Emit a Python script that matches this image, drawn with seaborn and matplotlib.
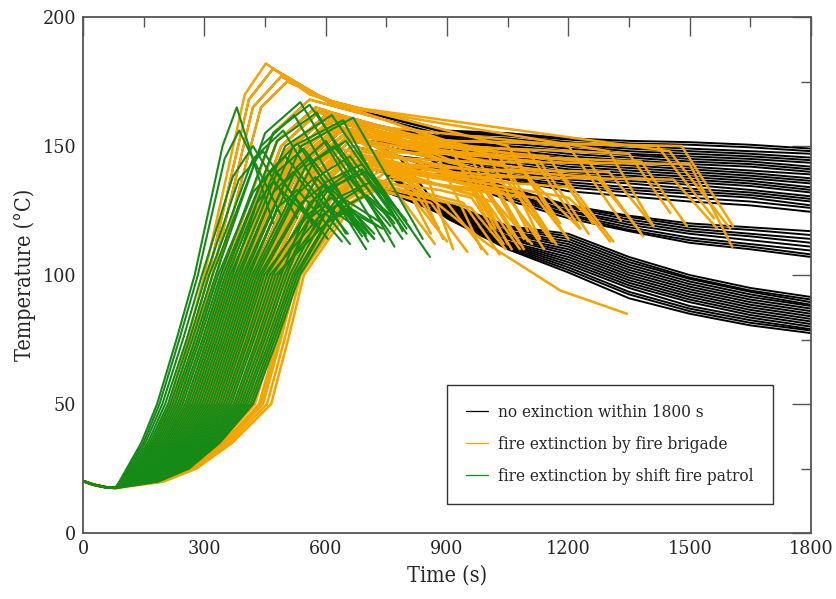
import numpy as np
import pandas as pd
import matplotlib
matplotlib.use("Agg")
import matplotlib.pyplot as plt
import seaborn as sns
from matplotlib.lines import Line2D
from matplotlib.ticker import MultipleLocator

# shared start of every curve (small dip after ignition)
start_t = [0, 25, 55, 80]
start_T = [20.2, 18.8, 17.8, 17.5]
# temperatures at which the rise times below were read
rise_levels = [20, 25, 35, 50, 75, 100]

# --- fire extinction by shift fire patrol (green) ---
green_t20 = [90, 92, 93, 95, 97, 99, 101, 103, 105, 107, 109, 111, 113, 115, 117, 119, 121, 123, 125, 127,
             130, 133, 136, 139, 142, 145, 148, 151, 154, 157, 160, 163, 166, 169, 172, 175, 178, 181, 184, 187]
green_t25 = [108, 112, 116, 120, 124, 128, 132, 136, 140, 144, 148, 152, 155, 158, 162, 166, 170, 174, 178, 182,
             186, 190, 194, 198, 202, 206, 210, 214, 218, 222, 226, 230, 234, 238, 242, 246, 250, 254, 258, 262]
green_t35 = [144, 149, 154, 160, 165, 170, 175, 180, 185, 190, 195, 200, 204, 209, 214, 219, 224, 229, 234, 239,
             244, 249, 254, 258, 263, 268, 273, 278, 283, 288, 293, 298, 303, 308, 313, 318, 323, 328, 333, 338]
green_t50 = [183, 189, 196, 203, 210, 216, 222, 228, 234, 240, 246, 252, 258, 264, 270, 276, 282, 288, 294, 300,
             306, 312, 318, 324, 330, 336, 342, 348, 354, 360, 366, 372, 378, 384, 390, 396, 402, 408, 414, 420]
green_t75 = [231, 238, 247, 256, 263, 270, 277, 283, 289, 295, 301, 307, 313, 319, 325, 331, 337, 343, 349, 355,
             361, 367, 373, 379, 385, 391, 397, 404, 410, 417, 423, 430, 436, 443, 449, 456, 462, 468, 474, 480]
green_t100 = [276, 284, 294, 304, 312, 320, 328, 334, 340, 346, 352, 358, 364, 370, 376, 382, 388, 394, 400, 406,
              412, 418, 424, 430, 436, 442, 448, 455, 462, 469, 476, 483, 490, 497, 504, 511, 518, 524, 530, 536]
green_ts = [345, 350, 370, 385, 420, 440, 450, 420, 470, 440, 480, 460, 500, 430, 480, 520, 470, 540, 500, 530,
            480, 550, 520, 570, 540, 580, 560, 600, 580, 610, 600, 630, 560, 590, 560, 620, 600, 630, 610, 640]
green_Ts = [150, 145, 138, 137, 145, 150, 155, 132, 155, 136, 152, 140, 150, 128, 140, 150, 132, 150, 136, 142,
            126, 142, 130, 144, 128, 138, 124, 136, 122, 134, 120, 130, 128, 132, 122, 134, 124, 128, 122, 126]
green_tp = [380, 386, 420, 445, 495, 522, 537, 470, 560, 500, 578, 530, 615, 470, 545, 643, 520, 668, 560, 600,
            530, 620, 575, 650, 595, 660, 615, 690, 635, 700, 655, 710, 610, 650, 600, 690, 650, 680, 660, 700]
green_Tp = [165, 156, 150, 148, 156, 162, 167, 141, 166, 146, 163, 151, 162, 136, 149, 160, 140, 161, 145, 152,
            133, 150, 138, 152, 135, 146, 130, 143, 128, 140, 125, 136, 134, 139, 127, 141, 129, 133, 126, 131]
green_te = [470, 490, 530, 570, 650, 705, 745, 605, 790, 655, 770, 690, 858, 585, 720, 790, 660, 840, 700, 760,
            640, 770, 700, 800, 690, 780, 700, 810, 720, 800, 740, 780, 720, 760, 690, 800, 740, 760, 730, 780]
green_Te = [120, 123, 122, 119, 116, 113, 113, 114, 114, 116, 111, 115, 107, 118, 114, 117, 112, 114, 110, 116,
            113, 120, 116, 118, 117, 120, 115, 118, 114, 121, 118, 125, 116, 119, 117, 116, 120, 122, 119, 121]

# --- fire extinction by fire brigade (orange) ---
orange_t20 = [100, 103, 106, 109, 112, 116, 120, 124, 128, 132, 136, 140, 144, 148, 152, 156, 160, 164, 168, 172,
              176, 180, 184, 188, 192, 196, 200, 130, 138, 146, 154, 162, 170, 178, 124, 130, 150, 158, 166, 142,
              174, 118, 126, 134, 140, 182, 120, 138, 148, 156, 144, 162, 152, 170]
orange_t25 = [135, 140, 145, 150, 155, 160, 165, 170, 176, 182, 188, 194, 200, 206, 212, 218, 224, 230, 236, 242,
              248, 254, 260, 265, 270, 275, 280, 180, 192, 204, 216, 228, 240, 252, 172, 184, 210, 222, 234, 198,
              246, 162, 176, 190, 200, 258, 168, 196, 208, 216, 202, 226, 214, 238]
orange_t35 = [172, 178, 185, 191, 198, 206, 213, 220, 228, 236, 244, 252, 260, 268, 276, 284, 292, 300, 308, 315,
              323, 331, 339, 347, 354, 361, 369, 238, 253, 269, 285, 301, 317, 333, 219, 235, 272, 288, 304, 257,
              320, 208, 227, 247, 261, 345, 216, 255, 268, 280, 262, 290, 275, 305]
orange_t50 = [212, 220, 228, 236, 245, 255, 265, 275, 285, 295, 305, 315, 325, 335, 345, 355, 365, 375, 385, 395,
              405, 415, 425, 435, 445, 455, 465, 300, 320, 340, 360, 380, 400, 420, 270, 290, 340, 360, 380, 320,
              400, 258, 282, 308, 328, 440, 268, 318, 335, 350, 330, 365, 342, 385]
orange_t75 = [258, 267, 276, 285, 297, 307, 319, 329, 340, 350, 360, 370, 380, 390, 400, 410, 420, 429, 438, 447,
              454, 463, 472, 480, 489, 498, 507, 355, 375, 395, 415, 432, 449, 467, 323, 345, 396, 415, 434, 377,
              452, 311, 337, 364, 384, 486, 322, 373, 392, 405, 386, 420, 398, 440]
orange_t100 = [300, 310, 320, 330, 345, 355, 368, 378, 390, 400, 410, 420, 430, 440, 450, 460, 470, 478, 486, 494,
               500, 508, 515, 522, 530, 538, 546, 405, 425, 445, 465, 480, 495, 510, 372, 395, 448, 466, 484, 430,
               500, 360, 388, 415, 436, 528, 372, 424, 445, 458, 440, 472, 452, 490]
orange_ts = [400, 410, 420, 440, 470, 480, 490, 500, 510, 520, 530, 535, 545, 550, 560, 570, 575, 585, 590, 600,
             610, 620, 630, 640, 650, 660, 670, 520, 540, 555, 570, 585, 600, 620, 495, 515, 540, 560, 580, 530,
             600, 480, 505, 525, 540, 640, 490, 535, 550, 560, 545, 575, 555, 590]
orange_Ts = [170, 168, 165, 165, 155, 152, 150, 148, 146, 145, 144, 142, 140, 138, 137, 136, 134, 134, 133, 132,
             132, 131, 130, 130, 129, 128, 128, 148, 145, 140, 143, 135, 133, 131, 147, 145, 130, 128, 127, 135,
             128, 152, 148, 144, 141, 128, 150, 143, 136, 134, 138, 130, 137, 128]
orange_tp = [452, 470, 490, 505, 560, 575, 590, 600, 610, 620, 630, 640, 650, 655, 660, 665, 670, 680, 690, 700,
             710, 720, 730, 740, 750, 760, 770, 620, 640, 655, 668, 680, 700, 720, 595, 615, 620, 640, 660, 620,
             680, 570, 600, 625, 640, 730, 580, 630, 640, 650, 635, 660, 645, 670]
orange_Tp = [182, 180, 177, 175, 168, 165, 164, 162, 160, 158, 157, 156, 155, 153, 152, 150, 148, 147, 146, 145,
             144, 143, 142, 141, 140, 138, 137, 160, 157, 154, 155, 148, 146, 144, 160, 158, 138, 136, 135, 145,
             136, 164, 161, 157, 154, 136, 163, 156, 146, 144, 149, 140, 147, 138]
orange_tm = [560, 600, 620, 650, 750, 760, 800, 780, 800, 820, 850, 780, 900, 850, 880, 860, 900, 880, 900, 920,
             950, 900, 950, 930, 1000, 950, 1000, 1000, 900, 900, 900, 950, 950, 900, 700, 720, 720, 760, 780, 740,
             820, 700, 780, 820, 840, 880, 760, 830, 860, 900, 880, 840, 920, 860]
orange_Tm = [170, 168, 166, 165, 160, 156, 155, 152, 152, 150, 150, 146, 148, 146, 145, 143, 147, 140, 140, 139,
             141, 137, 137, 136, 138, 133, 133, 112, 152, 150, 152, 141, 144, 138, 152, 150, 134, 132, 131, 140,
             131, 158, 154, 150, 148, 133, 157, 149, 136, 134, 138, 132, 136, 130]
orange_tx = [900, 1050, 1450, 1300, 950, 920, 1000, 880, 1100, 950, 1150, 840, 1250, 1000, 1180, 950, 1380, 980,
             1100, 1050, 1300, 1000, 1200, 1080, 1460, 1120, 1050, 1180, 1420, 1350, 1480, 1270, 1500, 1200, 760, 800,
             780, 820, 860, 800, 900, 1020, 1060, 980, 1130, 960, 1200, 1040, 990, 1020, 1040, 940, 1080, 960]
orange_Tx = [152, 150, 148, 148, 148, 146, 147, 145, 148, 142, 146, 143, 144, 140, 140, 138, 144, 136, 138, 136,
             140, 133, 134, 132, 137, 130, 131, 94, 150, 147, 150, 138, 143, 130, 146, 144, 131, 129, 128, 137,
             128, 148, 147, 144, 144, 130, 150, 143, 130, 128, 132, 128, 130, 126]
orange_te = [1020, 1180, 1600, 1410, 1060, 1010, 1100, 985, 1230, 1050, 1260, 915, 1385, 1100, 1311, 1060, 1493, 1080,
             1229, 1150, 1410, 1090, 1303, 1170, 1568, 1200, 1140, 1345, 1560, 1452, 1607, 1377, 1605, 1280, 860, 890,
             870, 900, 950, 880, 1000, 1150, 1190, 1090, 1250, 1040, 1330, 1130, 1080, 1110, 1130, 1030, 1160, 1045]
orange_Te = [118, 120, 118, 119, 116, 118, 117, 110, 118, 112, 120, 110, 115, 113, 113, 110, 119, 112, 118, 115,
             119, 110, 113, 112, 118, 114, 110, 85, 122, 124, 119, 117, 111, 118, 116, 114, 112, 113, 109, 118,
             108, 117, 116, 114, 116, 112, 121, 114, 110, 112, 114, 108, 113, 110]

# --- no extinction within 1800 s (black) ---
# their rise is hidden under the orange curves: each black curve follows one orange curve
# up to its plateau point, then goes on by itself
black_rise_from = [1, 2, 3, 4, 41, 46, 5, 6, 42, 7, 8, 34, 9, 10, 43, 35, 47, 44, 11, 13, 14, 15,
                   39, 11, 7, 15, 13, 11, 39, 15,
                   36, 37, 38, 39, 40, 36, 37, 38, 39, 40, 36, 37, 38, 39, 40, 11]
black_time = [900, 1050, 1200, 1350, 1500, 1650, 1800]
black_upper = [
    [156, 155, 153, 152, 151.5, 150.5, 149], [155.5, 154.5, 152.5, 151, 150.5, 149.5, 148],
    [155, 154, 151.5, 150, 149, 148, 147], [154, 153, 150.5, 149, 148, 147, 145.5],
    [153.5, 152, 150, 148, 147, 146, 144.5], [153, 151, 149, 147, 146, 145, 143.5],
    [152, 150, 148, 146.5, 145, 144, 142], [151.5, 149.5, 147, 145.5, 144, 143, 141],
    [151, 148.5, 146, 144.5, 143, 142, 140], [150, 148, 145, 143.5, 142, 140.5, 139],
    [149.5, 147, 144, 142.5, 141, 139.5, 137.5], [149, 146, 143, 141.5, 140, 138.5, 136.5],
    [148, 145, 142, 140.5, 139, 137.5, 135.5], [147.5, 144, 141, 139.5, 138, 136.5, 134],
    [147, 143, 140, 138.5, 137, 135.5, 133], [146, 142, 139, 137.5, 136, 134.5, 132],
    [145.5, 141, 138, 136.5, 135, 133, 130.5], [145, 140, 137, 135.5, 133.5, 132, 129.5],
    [144, 139, 136, 134, 132.5, 131, 128.5], [143, 138, 135, 133, 131.5, 130, 127],
    [142, 137.5, 134, 132, 130, 128.5, 126], [141, 137, 132.5, 130.5, 128.5, 127, 124.5],
]
black_middle = [
    [142, 134, 127, 123, 120, 118.5, 117], [141.5, 133.5, 126.5, 122.5, 119, 117.5, 115.5],
    [141, 133, 126, 121.5, 118, 116, 114], [140.5, 132, 125, 120.5, 117, 115, 112.5],
    [140, 131.5, 124.5, 119.5, 116, 113.5, 111], [139.5, 131, 123.5, 118.5, 114.5, 112, 109.5],
    [139, 130, 123, 117.5, 113.5, 111, 108], [138, 129, 122, 117, 112.5, 110, 107],
]
black_lower = [
    [128, 119, 116, 107, 100, 95, 91.5], [127.5, 118.5, 115, 106, 99, 94, 90.5],
    [127, 118, 114, 105, 98.5, 93.5, 89.5], [126.5, 117, 113, 104, 97.5, 92.5, 88.5],
    [126, 116.5, 112, 103, 96.5, 91.5, 88], [125.5, 116, 111, 102, 95.5, 90.5, 87],
    [125, 115, 110, 101, 94.5, 89.5, 86], [124.5, 114.5, 109, 100, 93.5, 88.5, 85],
    [124, 114, 108, 99, 92.5, 87.5, 84], [123.5, 113, 107, 98, 91.5, 86.5, 83],
    [123, 112.5, 106, 97, 90.5, 85.5, 82], [123, 112, 105, 96, 89.5, 84.5, 81],
    [122.5, 111.5, 104, 95, 88, 83.5, 80], [122.5, 111, 103, 93.5, 87, 82.5, 79],
    [122, 110.5, 102, 92.5, 86, 81.5, 78.5], [122, 110, 101, 91, 85, 80.5, 77.5],
]

labels = ["no exinction within 1800 s", "fire extinction by fire brigade",
          "fire extinction by shift fire patrol"]
colors = ["#000000", "#f5a300", "#168a16"]


def to_frame(curves):
    rows = []
    for k, pts in enumerate(curves):
        for t, T in pts:
            rows.append((k, t, T))
    return pd.DataFrame(rows, columns=["curve", "t", "T"])


start = list(zip(start_t, start_T))


def rise(times):
    return start + list(zip(times, rise_levels))


green_rise = [rise(r) for r in zip(green_t20, green_t25, green_t35, green_t50, green_t75, green_t100)]
green = [r + [(a, b), (c, d), (e, f)]
         for r, a, b, c, d, e, f in zip(green_rise, green_ts, green_Ts, green_tp, green_Tp,
                                        green_te, green_Te)]

orange_rise = [rise(r) for r in zip(orange_t20, orange_t25, orange_t35, orange_t50, orange_t75, orange_t100)]
orange_top = [r + [(a, b), (c, d), (e, f)]
              for r, a, b, c, d, e, f in zip(orange_rise, orange_ts, orange_Ts, orange_tp, orange_Tp,
                                             orange_tm, orange_Tm)]
orange = [r + [(a, b), (c, d)]
          for r, a, b, c, d in zip(orange_top, orange_tx, orange_Tx, orange_te, orange_Te)]

black_tail = black_upper + black_middle + black_lower
black = [orange_top[i] + list(zip(black_time, tail)) for i, tail in zip(black_rise_from, black_tail)]

sns.set_theme(style="white")
plt.rcParams["font.family"] = ["DejaVu Serif"]
plt.rcParams["font.stretch"] = "condensed"

fig, ax = plt.subplots(figsize=(8.37, 5.99), dpi=100)
fig.subplots_adjust(left=0.0992, right=0.969, bottom=0.110, top=0.9716)

for curves, col, lw in [(black, colors[0], 1.4), (orange, colors[1], 1.8), (green, colors[2], 1.5)]:
    sns.lineplot(data=to_frame(curves), x="t", y="T", units="curve", estimator=None,
                 sort=False, color=col, lw=lw, ax=ax, legend=False)

ax.set_xlim(0, 1800)
ax.set_ylim(0, 200)
ax.xaxis.set_major_locator(MultipleLocator(300))
ax.xaxis.set_minor_locator(MultipleLocator(150))
ax.yaxis.set_major_locator(MultipleLocator(50))
ax.yaxis.set_minor_locator(MultipleLocator(25))
ax.tick_params(which="major", direction="in", length=14, width=1, color="#555555",
               top=True, right=True, labelsize=14, pad=5)
ax.tick_params(which="minor", direction="in", length=7, width=1, color="#555555",
               top=True, right=True)
for s in ax.spines.values():
    s.set_color("#555555")
    s.set_linewidth(1.3)

ax.set_xlabel("Time (s)", fontsize=15.5, labelpad=5)
ax.set_ylabel("Temperature (°C)", fontsize=15.5, labelpad=5)

handles = [Line2D([0], [0], color=c, lw=0.9) for c in colors]
leg = ax.legend(handles, labels, loc="lower left", bbox_to_anchor=(0.5, 0.056),
                borderaxespad=0, fontsize=12.3, fancybox=False, framealpha=1,
                edgecolor="#333333", borderpad=1.1, labelspacing=0.9,
                handlelength=1.3, handletextpad=0.6)
leg.get_frame().set_linewidth(1.0)

fig.savefig("out.png", dpi=100)
